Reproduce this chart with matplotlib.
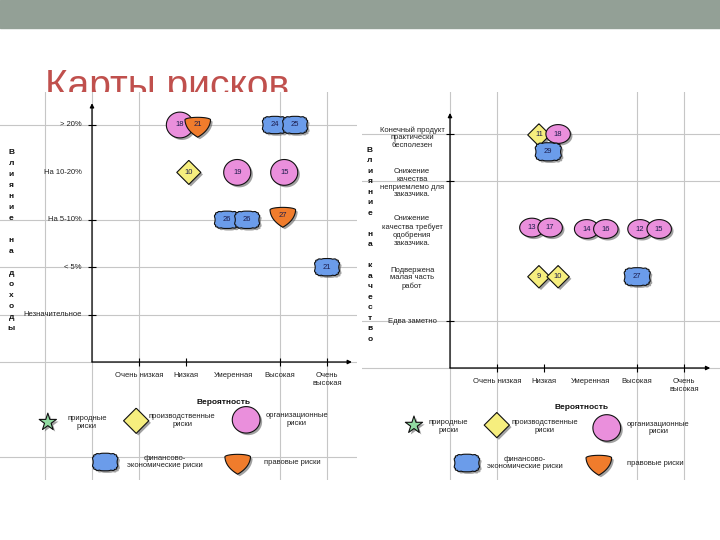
import matplotlib
matplotlib.use("Agg")

import matplotlib.pyplot as plt
import matplotlib.patheffects as pe
import numpy as np

plt.rcParams["font.family"] = ["Liberation Sans", "DejaVu Sans"]

W, H = 720, 540

# ---- data ----
prob_labels = ["Очень низкая", "Низкая", "Умеренная", "Высокая", "Очень\nвысокая"]

income_levels = ["Незначительное", "< 5%", "На 5-10%", "На 10-20%", "> 20%"]
income_ids = ["18", "21", "24", "25", "10", "19", "15", "26", "26", "27", "21"]
income_kind = ["org", "law", "fin", "fin", "prod", "org", "org", "fin", "fin", "law", "fin"]
income_prob = [1.87, 2.25, 3.89, 4.32, 2.06, 3.09, 4.09, 2.87, 3.30, 4.06, 5.00]
income_impact = [5.0, 5.0, 5.0, 5.0, 4.0, 4.0, 4.0, 3.0, 3.0, 3.1, 2.0]

quality_levels = ["Едва заметно", "Подвержена\nмалая часть\nработ",
                  "Снижение\nкачества требует\nодобрения\nзаказчика.",
                  "Снижение\nкачества\nнеприемлемо для\nзаказчика.",
                  "Конечный продукт\nпрактически\nбесполезен"]
quality_ids = ["11", "18", "29", "13", "17", "14", "16", "12", "15", "9", "10", "27"]
quality_kind = ["prod", "org", "fin", "org", "org", "org", "org", "org", "org",
                "prod", "prod", "fin"]
quality_prob = [1.90, 2.31, 2.10, 1.75, 2.14, 2.92, 3.33, 4.06, 4.47, 1.90, 2.31, 4.00]
quality_impact = [4.98, 5.0, 4.62, 3.0, 3.0, 2.97, 2.97, 2.97, 2.97, 1.95, 1.95, 1.95]

legend_kinds = ["nat", "prod", "org", "fin", "law"]
legend_texts = ["природные\nриски", "производственные\nриски", "организационные\nриски",
                "финансово-\nэкономические риски", "правовые риски"]


# ---- marker shapes ----
def cloud(ratio=1.4):
    t = np.linspace(0, 2 * np.pi, 240)
    c, s = np.cos(t), np.sin(t)
    bx = np.sign(c) * np.abs(c) ** 0.5 * ratio
    by = np.sign(s) * np.abs(s) ** 0.5
    r = 1 + 0.07 * np.abs(np.sin(7 * t))
    return np.column_stack([bx * r, by * r])


def ellipse(ratio=1.0):
    t = np.linspace(0, 2 * np.pi, 80)
    return np.column_stack([np.cos(t) * ratio, np.sin(t)])


def shield():
    t = np.linspace(0, np.pi, 40)
    top = np.column_stack([np.cos(t), 0.4 + 0.2 * np.sin(t)])
    u = np.linspace(0, 1, 20)[:, None]
    p0, p1, p2 = np.array([-1, 0.4]), np.array([-0.95, -0.4]), np.array([0, -0.95])
    left = (1 - u) ** 2 * p0 + 2 * (1 - u) * u * p1 + u ** 2 * p2
    q0, q1, q2 = np.array([0, -0.95]), np.array([0.95, -0.4]), np.array([1, 0.4])
    right = (1 - u) ** 2 * q0 + 2 * (1 - u) * u * q1 + u ** 2 * q2
    return np.vstack([top, left, right])


DIAMOND = np.array([[0, 1], [1, 0], [0, -1], [-1, 0], [0, 1]])

STYLE = {
    "org": dict(marker=ellipse(1.05), color="#ea8fdc"),
    "fin": dict(marker=cloud(1.45), color="#6b9cea"),
    "law": dict(marker=shield(), color="#f07c2c"),
    "prod": dict(marker=DIAMOND, color="#f6ee7e"),
    "nat": dict(marker="*", color="#92dba2"),
}
shadow = [pe.SimplePatchShadow(offset=(1.5, -1.5), shadow_rgbFace="#555555", alpha=0.55),
          pe.Normal()]


def draw_mark(ax, x, y, kind, s, text=None, marker=None):
    st = STYLE[kind]
    ax.scatter([x], [y], s=s, marker=marker if marker is not None else st["marker"],
               c=st["color"], edgecolors="#111111", linewidths=0.8, zorder=5,
               path_effects=shadow)
    if text is not None:
        ax.text(x, y, text, ha="center", va="center", fontsize=5.5, color="#1c1c4c",
                zorder=6)


fig = plt.figure(figsize=(W / 100, H / 100), dpi=100)
fig.patches.append(plt.Rectangle((0, 1 - 28 / H), 1, 28 / H, transform=fig.transFigure,
                                 color="#93a096", zorder=0))
# title sits behind the chart pictures, its lower edge gets cut off
fig.text(45 / W, 1 - 97 / H, "Карты рисков", color="#c0504d", fontsize=28,
         va="baseline", ha="left", zorder=-1)


def panel(rect, origin, step, name):
    x0, y0, x1, y1 = rect
    ox, oy = origin
    sx, sy = step
    ax = fig.add_axes([x0 / W, 1 - y1 / H, (x1 - x0) / W, (y1 - y0) / H], label=name)
    ax.set_zorder(1)
    ax.set_facecolor("white")
    ax.set_xlim((x0 - ox) / sx, (x1 - ox) / sx)
    ax.set_ylim((oy - y1) / sy, (oy - y0) / sy)
    ax.set_xticks([])
    ax.set_yticks([])
    for sp in ax.spines.values():
        sp.set_visible(False)
    return ax


def base(ax, vgrid, hgrid, yticks, xarrow, yarrow, vlabel, vlabel_pos, vspacing):
    for v in vgrid:
        ax.axvline(v, color="#c6c6c6", lw=0.8, zorder=1)
    for h in hgrid:
        ax.axhline(h, color="#c6c6c6", lw=0.8, zorder=1)
    ax.annotate("", xy=(xarrow, 0), xytext=(0, 0),
                arrowprops=dict(arrowstyle="-|>", color="black", lw=0.9,
                                mutation_scale=6, shrinkA=0, shrinkB=0), zorder=3)
    ax.annotate("", xy=(0, yarrow), xytext=(0, 0),
                arrowprops=dict(arrowstyle="-|>", color="black", lw=0.9,
                                mutation_scale=6, shrinkA=0, shrinkB=0), zorder=3)
    xt = [1, 2, 4, 5]
    ax.plot(xt, [0] * len(xt), ls="none", marker="|", ms=6, mew=0.8, color="black",
            zorder=3)
    ax.plot([0] * len(yticks), yticks, ls="none", marker="_", ms=6, mew=0.8,
            color="black", zorder=3)
    for i, lab in enumerate(prob_labels):
        ax.text(i + 1, -0.22, lab, ha="center", va="top", fontsize=5.5, color="#222222",
                linespacing=1.15)
    ax.text(2.8, -0.85, "Вероятность", ha="center", va="center", fontsize=6,
            fontweight="bold", color="#111111")
    ax.text(vlabel_pos[0], vlabel_pos[1], "\n".join(vlabel), ha="center", va="center",
            fontsize=6, fontweight="bold", color="#111111", linespacing=vspacing)


def legend(ax, mark_pos, text_pos):
    for kind, txt, mp, tp in zip(legend_kinds, legend_texts, mark_pos, text_pos):
        s = {"nat": 170, "org": 400, "prod": 330, "fin": 330, "law": 340}[kind]
        ax.scatter([mp[0]], [mp[1]], s=s, marker=STYLE[kind]["marker"],
                   c=STYLE[kind]["color"], edgecolors="#111111", linewidths=0.8,
                   zorder=5, path_effects=shadow)
        ax.text(tp[0], tp[1], txt, ha="center", va="center", fontsize=5.5,
                color="#222222", linespacing=1.15)


# ---- left panel: income ----
axl = panel((0, 92, 357, 480), (92, 362), (47.0, 47.4), "income")
base(axl, [-1, 0, 1, 4, 5], [5, 3, 2, 1, 0, -2], [5, 3, 2, 1], 5.53, 5.46,
     "Влияние на доходы", (-1.72, 2.57), 1.8)
for i, lab in enumerate(income_levels):
    axl.text(-0.22, i + 1, lab, ha="right", va="center", fontsize=5.5, color="#222222")
sizes = {"org": 380, "fin": 320, "law": 340, "prod": 300}
for t, k, x, y in zip(income_ids, income_kind, income_prob, income_impact):
    draw_mark(axl, x, y, k, sizes[k], t)
legend(axl,
       [(-0.94, -1.27), (0.94, -1.24), (3.28, -1.22), (0.28, -2.11), (3.1, -2.11)],
       [(-0.11, -1.27), (1.92, -1.24), (4.36, -1.22), (1.55, -2.11), (4.26, -2.11)])

# ---- right panel: quality ----
axr = panel((362, 92, 720, 480), (450, 368), (46.8, 46.8), "quality")
base(axr, [0, 1, 4, 5], [5, 4, 1, 0], [5, 4, 1], 5.56, 5.45,
     "Влияние на качество", (-1.71, 2.63), 1.7)
label_y = [1.0, 1.92, 2.93, 3.95, 4.92]
for lab, y in zip(quality_levels, label_y):
    axr.text(-0.81, y, lab, ha="center", va="center", fontsize=5.5, color="#222222",
             linespacing=1.15)
sizes = {"org": 310, "fin": 350, "law": 340, "prod": 260}
for t, k, x, y in zip(quality_ids, quality_kind, quality_prob, quality_impact):
    draw_mark(axr, x, y, k, sizes[k], t, ellipse(1.3) if k == "org" else None)
legend(axr,
       [(-0.77, -1.22), (1.0, -1.22), (3.35, -1.28), (0.36, -2.03), (3.18, -2.03)],
       [(-0.04, -1.25), (2.03, -1.25), (4.45, -1.28), (1.6, -2.03), (4.38, -2.03)])

fig.savefig("out.png", dpi=100)
